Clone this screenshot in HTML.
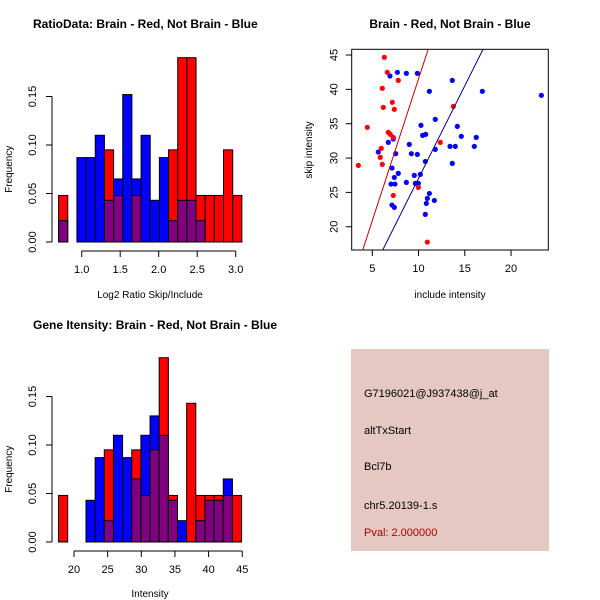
<!DOCTYPE html>
<html><head><meta charset="utf-8"><style>
html,body{margin:0;padding:0;background:#fff;}
svg{display:block;font-family:"Liberation Sans",sans-serif;}
</style></head><body>
<svg id="chart" width="600" height="600" viewBox="0 0 600 600" xmlns="http://www.w3.org/2000/svg">
<rect x="0" y="0" width="600" height="600" fill="#fff"/>
<g id="g1"></g>
<g id="g2"></g>
<g id="g3"></g>
<g id="g4">
<rect x="351" y="349" width="198" height="202" fill="#e5c8c1"/>
<text x="364" y="397" font-size="11" fill="#000">G7196021@J937438@j_at</text>
<text x="364" y="434" font-size="11" fill="#000">altTxStart</text>
<text x="364" y="470" font-size="11" fill="#000">Bcl7b</text>
<text x="364" y="509" font-size="11" fill="#000">chr5.20139-1.s</text>
<text x="364" y="536" font-size="11" fill="#aa0000">Pval: 2.000000</text>
</g>
</svg>
<script>
// Histogram 1 data (RatioData)
const h1Red = [0.048,0,0,0,0,0.095,0.048,0,0.048,0,0,0,0.095,0.19,0.19,0.048,0.048,0.048,0.095,0.048];
const h1Blue = [0.022,0,0.087,0.087,0.11,0.043,0.065,0.152,0.065,0.11,0.043,0.087,0.022,0.043,0.043,0.022,0,0,0,0];
const h1XTicks = [1.0,1.5,2.0,2.5,3.0];
const h1YTicks = [0.00,0.05,0.10,0.15];
// Histogram 2 data (Gene intensity)
const h2Red = [0.048,0,0,0,0,0.095,0,0,0.095,0.048,0.095,0.19,0.048,0,0.143,0.048,0.048,0.048,0.048,0.048];
const h2Blue = [0,0,0,0.043,0.087,0.022,0.11,0.087,0.065,0.11,0.13,0.11,0.043,0.022,0,0.022,0.043,0.043,0.065,0];
const h2XTicks = [20,25,30,35,40,45];
const h2YTicks = [0.00,0.05,0.10,0.15];
// Scatter data
const blueX = [6.91,7.71,8.68,9.87,13.65,11.17,16.90,23.28,11.81,10.26,14.19,14.62,16.24,10.44,10.77,7.27,6.73,9.00,11.81,13.40,13.97,16.03,5.65,7.53,9.22,9.87,13.65,10.73,7.13,7.81,7.38,9.54,10.19,8.68,7.02,7.45,9.65,9.98,11.17,10.95,11.71,10.84,7.13,7.38,10.73];
const blueY = [41.94,42.48,42.33,42.33,41.31,39.71,39.71,39.13,35.63,34.76,34.61,33.16,33.01,33.30,33.45,32.77,32.28,31.99,31.26,31.70,31.70,31.70,30.87,30.63,30.63,30.53,29.22,29.51,28.54,27.77,27.18,27.48,27.62,26.46,26.21,26.21,26.31,26.31,24.85,24.13,23.83,23.40,23.16,22.82,21.80];
const redX = [6.30,6.62,7.81,6.08,7.16,6.19,7.38,13.76,4.46,6.73,6.95,7.27,12.35,5.97,5.86,6.08,3.49,7.27,9.98,10.95];
const redY = [44.66,42.48,41.31,40.15,38.11,37.38,37.09,37.52,34.47,33.74,33.45,33.01,32.28,31.41,30.10,29.08,28.93,24.56,25.73,17.77];
const redFit = [0.24,4.13];
const blueFit = [0.11,2.694];
const scXTicks = [5,10,15,20];
const scYTicks = [20,25,30,35,40,45];

const NS="http://www.w3.org/2000/svg";
function mk(parent,tag,attrs){const e=document.createElementNS(NS,tag);for(const k in attrs)e.setAttribute(k,attrs[k]);parent.appendChild(e);return e;}

function hist(g,red,blue,x0,bw,xs,ys,yTicks,xTicks,fmtX,title,xlabel,ytop,xlOff){
  const X=v=>xs[0]+(v-xs[1])*xs[2];
  const Y=v=>ys[0]-v*ys[1];
  const n=red.length;
  for(let i=0;i<n;i++){
    const a=x0+i*bw, b=x0+(i+1)*bw;
    const r=red[i], bl=blue[i];
    const hi=Math.max(r,bl), lo=Math.min(r,bl);
    if(hi>0){
      const e=mk(g,'rect',{x:X(a),y:Y(hi),width:X(b)-X(a),height:Y(0)-Y(hi),fill:r>=bl?'#ff0000':'#0000ff',stroke:'#000','stroke-width':1});
      
      
    }
    if(lo>0){
      const e=mk(g,'rect',{x:X(a),y:Y(lo),width:X(b)-X(a),height:Y(0)-Y(lo),fill:'#800080',stroke:'#000','stroke-width':1});
      
      
    }
  }
  const ax=52;
  const ya=mk(g,'line',{x1:ax,x2:ax,y1:Y(yTicks[0]),y2:Y(yTicks[yTicks.length-1]),stroke:'#000'});
  
  
  yTicks.forEach(t=>{
    mk(g,'line',{x1:ax-6,x2:ax,y1:Y(t),y2:Y(t),stroke:'#000'});
    const tx=mk(g,'text',{x:0,y:0,transform:`translate(${ax-16},${Y(t)}) rotate(-90)`,'text-anchor':'middle','font-size':11});
    tx.textContent=t.toFixed(2);
    
    
  });
  const xa=mk(g,'line',{x1:X(xTicks[0]),x2:X(xTicks[xTicks.length-1]),y1:Y(0)+9,y2:Y(0)+9,stroke:'#000'});
  
  
  xTicks.forEach(t=>{
    mk(g,'line',{x1:X(t),x2:X(t),y1:Y(0)+9,y2:Y(0)+15,stroke:'#000'});
    const tx=mk(g,'text',{x:X(t),y:Y(0)+31,'text-anchor':'middle','font-size':11});
    tx.textContent=fmtX(t);
    
    
  });
  const tt=mk(g,'text',{x:33,y:ytop,'font-size':12,'font-weight':'bold'});
  tt.textContent=title;
  
  
  const xl=mk(g,'text',{x:150,y:Y(0)+xlOff,'text-anchor':'middle','font-size':10});
  xl.textContent=xlabel;
  
  
  const yl=mk(g,'text',{x:0,y:0,transform:`translate(12,${Y(0.075)}) rotate(-90)`,'text-anchor':'middle','font-size':10});
  yl.textContent='Frequency';
  
  
}
hist(document.getElementById('g1'),h1Red,h1Blue,0.7,0.119,[81.7,1.0,77],[242,970],h1YTicks,h1XTicks,t=>t.toFixed(1),'RatioData: Brain - Red, Not Brain - Blue','Log2 Ratio Skip/Include',28,56);
hist(document.getElementById('g3'),h2Red,h2Blue,17.7,1.36,[74,20,6.73],[542,970],h2YTicks,h2XTicks,t=>String(t),'Gene Itensity: Brain - Red, Not Brain - Blue','Intensity',329,55);

(function(){
  const g=document.getElementById('g2');
  const L=351.7,R=548.3,T=49.3,B=250;
  const X=v=>372.3+(v-5)*9.25;
  const Y=v=>55+(45-v)*6.87;
  const defs=mk(g,'clipPath',{id:'sc'});
  mk(defs,'rect',{x:L,y:T,width:R-L,height:B-T});
  const box=mk(g,'rect',{x:L,y:T,width:R-L,height:B-T,fill:'none',stroke:'#000'});
  
  
  scXTicks.forEach(t=>{
    mk(g,'line',{x1:X(t),x2:X(t),y1:B,y2:B+6,stroke:'#000'});
    const tx=mk(g,'text',{x:X(t),y:B+22,'text-anchor':'middle','font-size':11});
    tx.textContent=t;
    
    
  });
  scYTicks.forEach(t=>{
    mk(g,'line',{x1:L-6,x2:L,y1:Y(t),y2:Y(t),stroke:'#000'});
    const tx=mk(g,'text',{x:0,y:0,transform:`translate(${L-14},${Y(t)}) rotate(-90)`,'text-anchor':'middle','font-size':11});
    tx.textContent=t;
    
    
  });
  blueX.forEach((x,i)=>{
    const c=mk(g,'circle',{cx:X(x),cy:Y(blueY[i]),r:2.6,fill:'#0000ff'});
    
    
  });
  redX.forEach((x,i)=>{
    const c=mk(g,'circle',{cx:X(x),cy:Y(redY[i]),r:2.6,fill:'#ff0000'});
    
    
  });
  [[redFit,'#cc0000','red-fit-line'],[blueFit,'#00008b','blue-fit-line']].forEach(([f,col,nm])=>{
    const x1=0,x2=30;
    const l=mk(g,'line',{x1:X(x1),y1:Y(f[0]+f[1]*x1),x2:X(x2),y2:Y(f[0]+f[1]*x2),stroke:col,'stroke-width':1,'clip-path':'url(#sc)'});
    
    
  });
  const tt=mk(g,'text',{x:450,y:28,'text-anchor':'middle','font-size':12,'font-weight':'bold'});
  tt.textContent='Brain - Red, Not Brain - Blue';
  
  
  const xl=mk(g,'text',{x:450,y:298,'text-anchor':'middle','font-size':10});
  xl.textContent='include intensity';
  
  
  const yl=mk(g,'text',{x:0,y:0,transform:`translate(312,150) rotate(-90)`,'text-anchor':'middle','font-size':10});
  yl.textContent='skip intensity';
  
  
})();
</script>
</body></html>
